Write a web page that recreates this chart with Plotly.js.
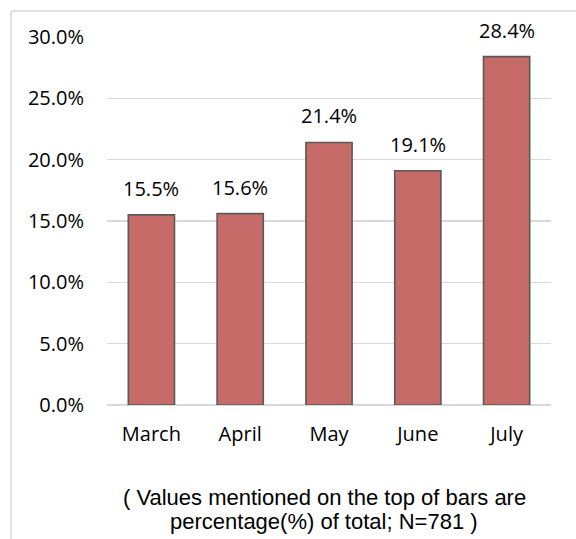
<!DOCTYPE html>
<html>
<head>
<meta charset="utf-8">
<script src="https://cdn.plot.ly/plotly-3.0.1.min.js"></script>
<style>html,body{margin:0;padding:0;background:#fff;}#chart{width:576px;height:539px;}</style>
</head>
<body>
<div id="chart"></div>
<script>
const months = ["March", "April", "May", "June", "July"];
const shares = [15.5, 15.6, 21.4, 19.1, 28.4];
const labels = ["15.5%", "15.6%", "21.4%", "19.1%", "28.4%"];
const yTicks = [0, 5, 10, 15, 20, 25, 30];
const yTickText = ["0.0%", "5.0%", "10.0%", "15.0%", "20.0%", "25.0%", "30.0%"];
const noteLines = ["( Values mentioned on the top of bars are", "percentage(%) of total; N=781 )"];

const W = 576, H = 539, L = 107, R = 25, T = 37, B = 134;
const PW = W - L - R, PH = H - T - B;
const px = v => (v - L) / PW;
const py = v => (H - B - v) / PH;

const trace = {
  type: "bar",
  x: months,
  y: shares,
  marker: { color: "#C76B69", line: { color: "#595959", width: 1.6 } },
  hoverinfo: "none"
};

const annotations = months.map((m, i) => ({
  x: m, y: shares[i], xref: "x", yref: "y",
  text: labels[i], showarrow: false, yanchor: "bottom", yshift: 11,
  font: { family: "Open Sans", size: 20, color: "#000" }
}));
const noteY = [497, 521];
noteLines.forEach((t, i) => annotations.push({
  xref: "paper", yref: "paper", x: px(324), y: py(noteY[i]),
  xanchor: "center", yanchor: "middle", showarrow: false,
  text: t, align: "center",
  font: { family: "Liberation Sans, Arial", size: 22, color: "#000" }
}));

const layout = {
  width: W, height: H,
  margin: { l: L, r: R, t: T, b: B, pad: 0 },
  paper_bgcolor: "#fff", plot_bgcolor: "#fff",
  showlegend: false,
  bargap: 0.48,
  font: { family: "Open Sans", size: 20, color: "#000" },
  xaxis: {
    type: "category",
    showgrid: false, zeroline: false,
    showline: false, ticks: "",
    ticklabelstandoff: 15,
    tickfont: { family: "Open Sans", size: 20, color: "#000" },
    fixedrange: true
  },
  yaxis: {
    range: [0, 30],
    tickvals: yTicks, ticktext: yTickText,
    showgrid: true, gridcolor: "#d9d9d9", gridwidth: 1.3,
    zeroline: true, zerolinecolor: "#d9d9d9", zerolinewidth: 1.3,
    showline: false, ticks: "",
    ticklabelstandoff: 22,
    tickfont: { family: "Open Sans", size: 20, color: "#000" },
    fixedrange: true
  },
  annotations: annotations,
  shapes: [
    { type: "line", xref: "paper", yref: "paper", x0: px(11), x1: px(576), y0: py(11), y1: py(11), line: { color: "#d9d9d9", width: 1.5 } },
    { type: "line", xref: "paper", yref: "paper", x0: px(11), x1: px(11), y0: py(11), y1: py(539), line: { color: "#d9d9d9", width: 1.5 } }
  ]
};

Plotly.newPlot("chart", [trace], layout, { displayModeBar: false, staticPlot: true });
</script>
</body>
</html>
